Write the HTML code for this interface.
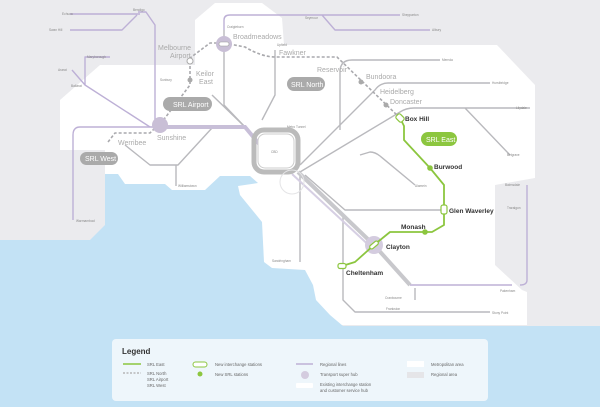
<!DOCTYPE html>
<html><head><meta charset="utf-8"><style>
html,body{margin:0;padding:0;background:#ebebee;}
svg{display:block;font-family:"Liberation Sans",sans-serif;}
.g{fill:none;stroke:#b9b9bd;stroke-width:1.4;stroke-linejoin:round}
.p{fill:none;stroke:#bdb0d6;stroke-width:1.4;stroke-linejoin:round}
.d{fill:none;stroke:#a9a9ad;stroke-width:1.6;stroke-dasharray:3 2}
.gr{fill:none;stroke:#8cc63f;stroke-width:1.8;stroke-linejoin:round}
.t{font-size:3.2px;fill:#888}
.m{font-size:7px;fill:#aaa}
.b{font-size:6.5px;fill:#333;font-weight:bold}
</style></head><body>
<svg width="600" height="407" viewBox="0 0 600 407">
<rect width="600" height="407" fill="#ebebee"/>
<polygon fill="#fff" points="215,3 262,3 282,18 284,45 497,45 535,85 535,178 495,185 495,265 522,290 527,292 527,325 105,325 105,150 60,150 60,100 100,65 195,65 195,20"/>
<polygon fill="#c3e2f5" points="0,240 90,240 105,225 105,174 118,174 125,184 165,184 172,190 205,190 220,176 250,176 258,183 238,186 240,195 262,222 264,262 272,268 305,270 313,285 316,300 330,315 343,326 600,326 600,407 0,407"/>
<!-- regional purple -->
<path class="p" d="M155,125 V25 L146,12 H138"/>
<path class="p" d="M70,14 H140 M70,30 H122 L137,15"/>
<path class="p" d="M150,127 L85,85 L72,70 M85,85 V57 H110"/>
<path class="p" d="M160,127 H80 Q73,127 73,135 V220"/>
<path class="p" d="M224,30 V20 Q224,15 230,15 H400 M322,15 L335,30 H430"/>
<path class="p" d="M410,285 H512 M527,185 V280 Q527,285 520,285"/>
<!-- grey metro -->
<path class="g" d="M224,30 V105 L245,127"/>
<path class="g" d="M275,50 V95 L262,120"/>
<path class="g" d="M340,130 V72 Q340,60 352,60 H440"/>
<path class="g" d="M300,165 L375,90 Q380,83 388,83 H490"/>
<path class="g" d="M300,172 L400,112 Q406,108 414,108 H530 M465,108 L510,155"/>
<path class="g" d="M360,155 L370,152 Q375,152 380,156 L415,185"/>
<path class="g" d="M305,175 L345,210 H444"/>
<path class="g" d="M343,215 V300 L355,312 H490"/>
<path class="g" d="M415,288 V300"/>
<path class="g" d="M300,176 V262"/>
<path class="g" d="M212,128 L178,165 H150 L125,145"/>
<path class="g" d="M176,165 V186"/>
<path class="g" d="M212,95 L245,127"/>
<!-- trunks -->
<path d="M160,127 H245 L260,145" fill="none" stroke="#c8bfd8" stroke-width="4"/>
<path d="M298,172 L374,245 L410,285" fill="none" stroke="#c8c8cc" stroke-width="4"/>
<path d="M292,174 L374,250" fill="none" stroke="#d6cfe3" stroke-width="2"/>
<!-- CBD loop -->
<rect x="254" y="130" width="44" height="42" rx="10" fill="none" stroke="#bbb" stroke-width="5"/>
<rect x="258" y="134" width="36" height="34" rx="7" fill="#fff" stroke="#ccc" stroke-width="1"/>
<text x="271" y="153" class="t">CBD</text>
<text x="287" y="128" class="t">Metro Tunnel</text>
<circle cx="292" cy="182" r="12" fill="none" stroke="#e4e4e6" stroke-width="1"/>
<!-- dashed SRL -->
<path class="d" d="M400,118 L337,57 H275 Q262,57 245,47 L224,43 L210,43 L190,58 V85 L165,118 L150,133 H115 L108,142"/>
<!-- hubs -->
<circle cx="160" cy="125" r="8" fill="#c9bfd6"/>
<circle cx="224" cy="44" r="8" fill="#c9bfd6"/>
<circle cx="374" cy="245" r="9" fill="#d4ccdf"/>
<rect x="219" y="42" width="10" height="4" rx="2" fill="#fff" stroke="#999" stroke-width=".6"/>
<circle cx="190" cy="61" r="3" fill="#fff" stroke="#aaa"/>
<circle cx="190" cy="80" r="2.5" fill="#aaa"/>
<circle cx="361" cy="82" r="2.5" fill="#aaa"/>
<circle cx="386" cy="105" r="2.5" fill="#aaa"/>
<!-- green -->
<path class="gr" d="M400,118 L404,126 V140 L430,168 L444,185 V225 L432,232 H390 L374,245 L355,262 L342,266"/>
<circle cx="430" cy="168" r="2.8" fill="#8cc63f"/>
<circle cx="425" cy="232" r="2.8" fill="#8cc63f"/>
<rect x="396" y="115" width="8" height="6" rx="2" fill="#fff" stroke="#8cc63f" stroke-width="1.2" transform="rotate(45 400 118)"/>
<rect x="441" y="205" width="6" height="9" rx="2" fill="#fff" stroke="#8cc63f" stroke-width="1.2"/>
<rect x="338" y="263.5" width="8" height="5" rx="2" fill="#fff" stroke="#8cc63f" stroke-width="1.2"/>
<rect x="369" y="243" width="10" height="4" rx="2" fill="#fff" stroke="#8cc63f" stroke-width="1.2" transform="rotate(-40 374 245)"/>
<!-- pills -->
<rect x="163" y="97" width="49" height="14" rx="7" fill="#aaa"/><text x="173" y="107" font-size="7" fill="#fff">SRL Airport</text>
<rect x="80" y="152" width="38" height="13" rx="6.5" fill="#aaa"/><text x="85" y="161" font-size="7" fill="#fff">SRL West</text>
<rect x="287" y="77" width="38" height="14" rx="7" fill="#aaa"/><text x="291" y="87" font-size="7" fill="#fff">SRL North</text>
<rect x="421" y="132" width="36" height="14" rx="7" fill="#8cc63f"/><text x="426" y="142" font-size="7" fill="#fff">SRL East</text>
<!-- labels -->
<text x="158" y="50" class="m">Melbourne</text><text x="170" y="58" class="m">Airport</text>
<text x="196" y="76" class="m">Keilor</text><text x="199" y="84" class="m">East</text>
<text x="233" y="39" class="m">Broadmeadows</text>
<text x="279" y="55" class="m">Fawkner</text>
<text x="317" y="72" class="m">Reservoir</text>
<text x="366" y="79" class="m">Bundoora</text>
<text x="380" y="94" class="m">Heidelberg</text>
<text x="390" y="104" class="m">Doncaster</text>
<text x="157" y="140" class="m">Sunshine</text>
<text x="118" y="145" class="m">Werribee</text>
<text x="405" y="121" class="b">Box Hill</text>
<text x="434" y="169" class="b">Burwood</text>
<text x="449" y="213" class="b">Glen Waverley</text>
<text x="401" y="229" class="b">Monash</text>
<text x="386" y="249" class="b">Clayton</text>
<text x="346" y="275" class="b">Cheltenham</text>
<text x="62" y="15" class="t">Echuca</text><text x="49" y="31" class="t">Swan Hill</text>
<text x="133" y="11" class="t">Bendigo</text><text x="305" y="19" class="t">Seymour</text>
<text x="402" y="16" class="t">Shepparton</text><text x="432" y="31" class="t">Albury</text>
<text x="87" y="58" class="t">Maryborough</text><text x="58" y="71" class="t">Ararat</text>
<text x="71" y="87" class="t">Ballarat</text><text x="160" y="81" class="t">Sunbury</text>
<text x="227" y="28" class="t">Craigieburn</text><text x="277" y="46" class="t">Upfield</text>
<text x="442" y="61" class="t">Mernda</text><text x="492" y="84" class="t">Hurstbridge</text>
<text x="516" y="109" class="t">Lilydale</text><text x="507" y="156" class="t">Belgrave</text>
<text x="415" y="187" class="t">Alamein</text><text x="505" y="186" class="t">Bairnsdale</text>
<text x="507" y="209" class="t">Traralgon</text><text x="500" y="292" class="t">Pakenham</text>
<text x="385" y="299" class="t">Cranbourne</text><text x="386" y="310" class="t">Frankston</text>
<text x="492" y="314" class="t">Stony Point</text><text x="272" y="262" class="t">Sandringham</text>
<text x="178" y="187" class="t">Williamstown</text><text x="76" y="222" class="t">Warrnambool</text>
<!-- legend -->
<rect x="112" y="339" width="376" height="62" rx="4" fill="#eef6fb"/>
<text x="122" y="354" font-size="8" font-weight="bold" fill="#333">Legend</text>
<g font-size="4.2" fill="#666">
<line x1="123" y1="364" x2="141" y2="364" stroke="#8cc63f" stroke-width="1.6"/><text x="147" y="366">SRL East</text>
<line x1="123" y1="373" x2="141" y2="373" stroke="#aaa" stroke-width="1.2" stroke-dasharray="2 1.5"/><text x="147" y="375">SRL North</text><text x="147" y="381">SRL Airport</text><text x="147" y="387">SRL West</text>
<rect x="193" y="362" width="14" height="5" rx="2.5" fill="#fff" stroke="#8cc63f"/><text x="215" y="366">New interchange stations</text>
<circle cx="200" cy="374" r="2.5" fill="#8cc63f"/><text x="215" y="376">New SRL stations</text>
<line x1="296" y1="364" x2="313" y2="364" stroke="#bdb0d6" stroke-width="1.4"/><text x="320" y="366">Regional lines</text>
<circle cx="305" cy="375" r="4" fill="#d4ccdf"/><text x="320" y="376">Transport super hub</text>
<rect x="296" y="383" width="17" height="5" rx="1" fill="#fff"/><text x="320" y="386">Existing interchange station</text><text x="320" y="392">and customer service hub</text>
<rect x="407" y="361" width="17" height="6" fill="#fff"/><text x="431" y="366">Metropolitan area</text>
<rect x="407" y="372" width="17" height="6" fill="#e5e5e8"/><text x="431" y="376">Regional area</text>
</g>
</svg>
</body></html>
